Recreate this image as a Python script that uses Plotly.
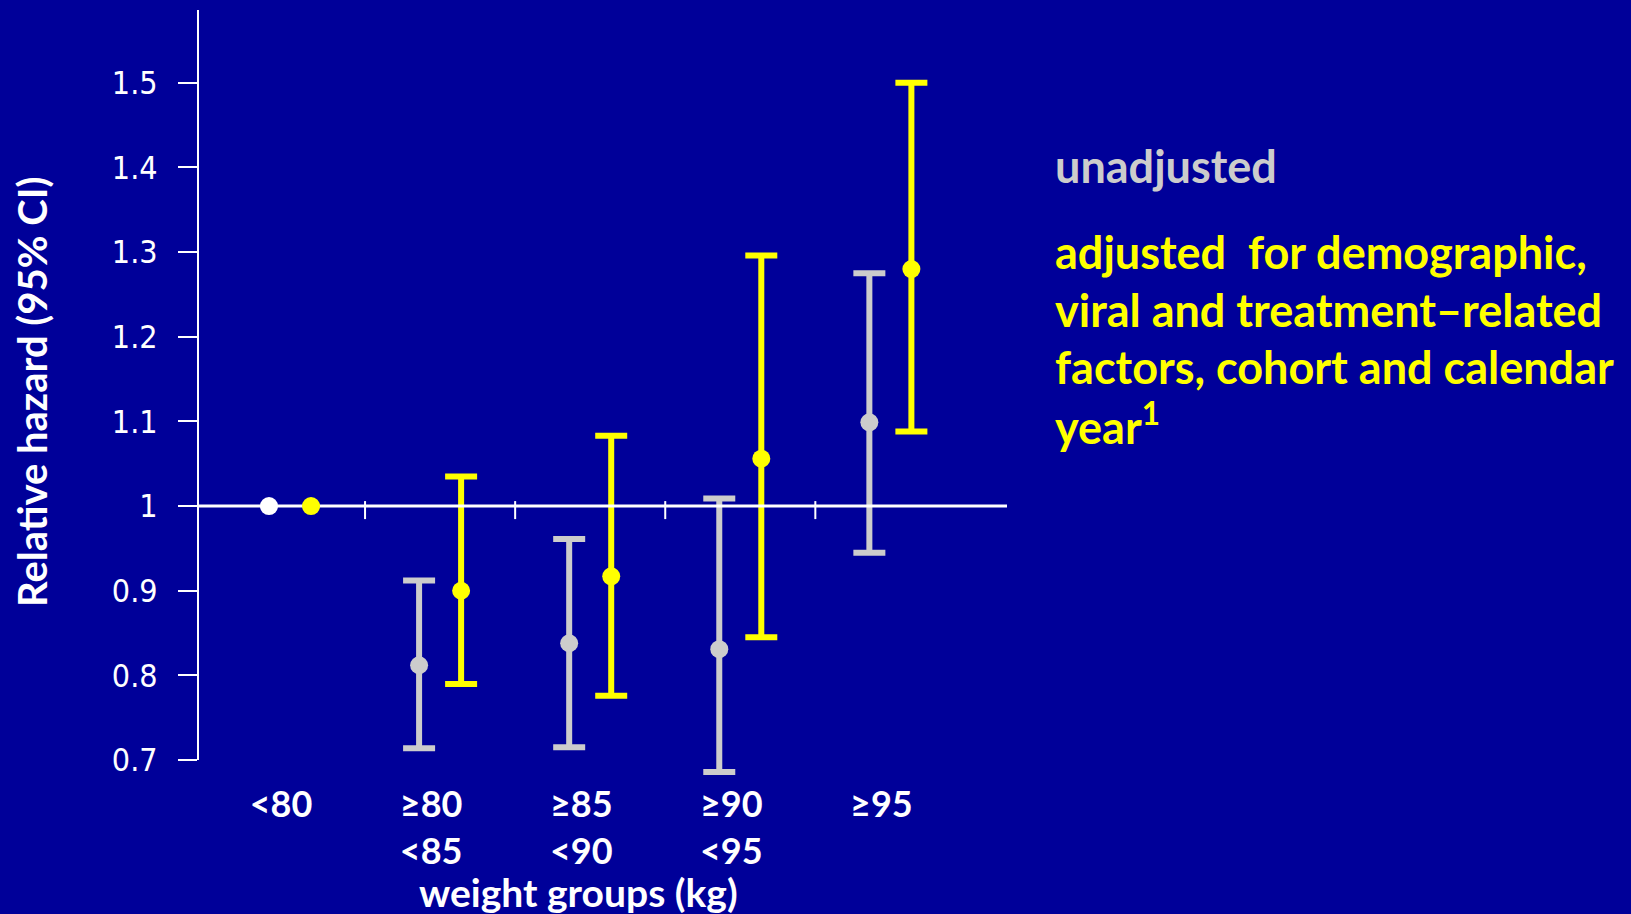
import plotly.graph_objects as go

# ---------------- data ----------------
categories = ["&lt;80", "≥80<br>&lt;85", "≥85<br>&lt;90", "≥90<br>&lt;95", "≥95"]
reference_value = 1.0

# unadjusted (index 0 = reference group, no CI)
unadj_est = [1.0, 0.812, 0.838, 0.831, 1.099]
unadj_low = [None, 0.714, 0.715, 0.686, 0.945]
unadj_high = [None, 0.912, 0.961, 1.009, 1.275]

# adjusted
adj_est = [1.0, 0.900, 0.917, 1.056, 1.280]
adj_low = [None, 0.790, 0.776, 0.845, 1.088]
adj_high = [None, 1.035, 1.083, 1.296, 1.500]

y_tickvals = [0.7, 0.8, 0.9, 1.0, 1.1, 1.2, 1.3, 1.4, 1.5]
y_ticktext = ["0.7", "0.8", "0.9", "1", "1.1", "1.2", "1.3", "1.4", "1.5"]

legend_unadj = "unadjusted"
legend_adj_lines = [
    "adjusted  for demographic,",
    "viral and treatment–related",
    "factors, cohort and calendar",
    "year<sup>1</sup>",
]
x_title = "weight groups (kg)"
y_title = "Relative hazard (95% CI)"

# ---------------- style ----------------
BG = "#000099"
GRAY = "#CCCCCC"
YELLOW = "#FFFF00"
WHITE = "#FFFFFF"
FONT_BOLD = "Lato, 'Open Sans', sans-serif"
FONT_TICK = "'DejaVu Sans Condensed', 'DejaVu Sans', sans-serif"

W, H = 1631, 914
L, R, T, B = 198, 1007, 10, 777
OFFSET = 0.14
X_RANGE = [-0.613, 4.777]
Y_RANGE = [0.68, 1.586]
Y_AXIS_START = 0.7


def px_x(px):
    return (px - L) / (R - L)


def px_y(py):
    return (B - py) / (B - T)


fig = go.Figure()

idx = list(range(len(categories)))


def ci_trace(est, low, high, color, shift):
    xs, ys, ep, em = [], [], [], []
    for i, e, lo, hi in zip(idx, est, low, high):
        if lo is None:
            continue
        xs.append(i + shift)
        ys.append(e)
        ep.append(hi - e)
        em.append(e - lo)
    return go.Scatter(
        x=xs, y=ys, mode="markers", cliponaxis=False,
        marker=dict(color=color, size=18, line=dict(width=0)),
        error_y=dict(type="data", array=ep, arrayminus=em, symmetric=False,
                     color=color, thickness=6, width=16),
        hoverinfo="skip", showlegend=False,
    )


fig.add_trace(ci_trace(unadj_est, unadj_low, unadj_high, GRAY, -OFFSET))
fig.add_trace(ci_trace(adj_est, adj_low, adj_high, YELLOW, OFFSET))

# reference line at 1
fig.add_trace(go.Scatter(
    x=X_RANGE, y=[reference_value, reference_value], mode="lines",
    line=dict(color=WHITE, width=3), hoverinfo="skip", showlegend=False,
    cliponaxis=False,
))

# reference group points
ref_x, ref_y, ref_c = [], [], []
for i, (lo, e) in enumerate(zip(unadj_low, unadj_est)):
    if lo is None:
        ref_x.append(i - OFFSET); ref_y.append(e); ref_c.append(WHITE)
for i, (lo, e) in enumerate(zip(adj_low, adj_est)):
    if lo is None:
        ref_x.append(i + OFFSET); ref_y.append(e); ref_c.append(YELLOW)
fig.add_trace(go.Scatter(
    x=ref_x, y=ref_y, mode="markers", cliponaxis=False,
    marker=dict(color=ref_c, size=18, line=dict(width=0)),
    hoverinfo="skip", showlegend=False,
))

shapes = [
    # y axis line, starting at the lowest tick
    dict(type="line", xref="paper", yref="y", x0=0, x1=0,
         y0=Y_AXIS_START, y1=Y_RANGE[1], line=dict(color=WHITE, width=2), layer="above"),
]
# divider ticks on reference line
for i in idx[:-1]:
    shapes.append(dict(
        type="line", xref="x", yref="y", x0=i + 0.5, x1=i + 0.5,
        ysizemode="pixel", yanchor=reference_value, y0=-13, y1=5,
        line=dict(color=WHITE, width=2), layer="above",
    ))

annotations = [
    dict(text=legend_unadj, xref="paper", yref="paper",
         x=px_x(1056), y=px_y(166), xanchor="left", yanchor="middle",
         showarrow=False, font=dict(family=FONT_BOLD, size=45, color=GRAY, weight="bold")),
    dict(text=x_title, xref="paper", yref="paper",
         x=px_x(578), y=px_y(892), xanchor="center", yanchor="middle",
         showarrow=False, font=dict(family=FONT_BOLD, size=39, color=WHITE, weight="bold")),
    dict(text=y_title, xref="paper", yref="paper", textangle=-90,
         x=px_x(32), y=px_y(392), xanchor="center", yanchor="middle",
         showarrow=False, font=dict(family=FONT_BOLD, size=40, color=WHITE, weight="bold")),
]
for k, (line, cy) in enumerate(zip(legend_adj_lines, [252, 310, 367, 424])):
    annotations.append(dict(
        text=line, xref="paper", yref="paper",
        x=px_x(1053), y=px_y(cy), xanchor="left", yanchor="middle",
        showarrow=False, font=dict(family=FONT_BOLD, size=45, color=YELLOW, weight="bold"),
    ))
annotations[0]["x"] = px_x(1053)

fig.update_layout(
    width=W, height=H,
    paper_bgcolor=BG, plot_bgcolor=BG,
    margin=dict(l=L, r=W - R, t=T, b=H - B, pad=0),
    showlegend=False,
    shapes=shapes,
    annotations=annotations,
    xaxis=dict(
        range=X_RANGE, showgrid=False, zeroline=False, showline=False,
        tickmode="array", tickvals=idx, ticktext=categories, ticks="",
        tickfont=dict(family=FONT_BOLD, size=36, color=WHITE, weight="bold"),
        ticklabelstandoff=3, ticklabelshift=-9, fixedrange=True,
    ),
    yaxis=dict(
        range=Y_RANGE, showgrid=False, zeroline=False, showline=False,
        ticks="outside", ticklen=19, tickwidth=2, tickcolor=WHITE,
        tickmode="array", tickvals=y_tickvals, ticktext=y_ticktext,
        tickfont=dict(family=FONT_TICK, size=32, color=WHITE),
        ticklabelstandoff=14, fixedrange=True,
    ),
)

fig.write_html(
    "out.html",
    config={"displayModeBar": False},
    post_script="document.body.style.margin='0';document.body.style.background='#000099';"
                "document.body.style.overflow='hidden';",
)
